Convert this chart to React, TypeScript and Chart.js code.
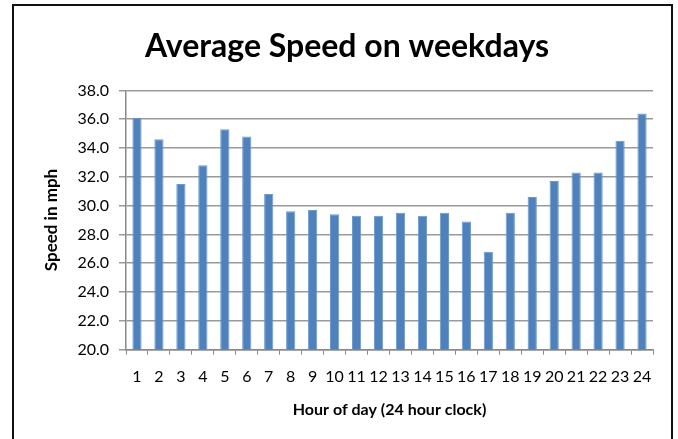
import React, { useEffect, useRef } from "react";
import { Chart, registerables } from "chart.js";

Chart.register(...registerables);

const hours = ["1","2","3","4","5","6","7","8","9","10","11","12","13","14","15","16","17","18","19","20","21","22","23","24"];
const speeds = [36.1,34.6,31.5,32.8,35.3,34.8,30.8,29.6,29.7,29.4,29.3,29.3,29.5,29.3,29.5,28.9,26.8,29.5,30.6,31.7,32.3,32.3,34.5,36.4];
const chartTitle = "Average Speed on weekdays";
const xTitle = "Hour of day (24 hour clock)";
const yTitle = "Speed in mph";

export default function App() {
  const ref = useRef<HTMLCanvasElement>(null);
  useEffect(() => {
    if (!ref.current) return;
    const font = "Lato, 'Open Sans', sans-serif";
    const chart = new Chart(ref.current, {
      type: "bar",
      data: {
        labels: hours,
        datasets: [{
          data: speeds,
          backgroundColor: "#4F81BD",
          borderColor: "#6E98CC",
          borderWidth: 1,
          categoryPercentage: 1,
          barPercentage: 0.42,
        }],
      },
      options: {
        animation: false,
        responsive: false,
        layout: { padding: { left: 41, right: 25, top: 0, bottom: 20 } },
        plugins: {
          legend: { display: false },
          tooltip: { enabled: false },
          title: {
            display: true,
            text: chartTitle,
            color: "#000",
            font: { family: font, size: 32, weight: "bold" },
            padding: { top: 27, bottom: 25 },
          },
        },
        scales: {
          x: {
            offset: true,
            grid: { display: true, drawOnChartArea: false, drawTicks: true, tickLength: 5, offset: true, color: "#888", lineWidth: 1 },
            border: { display: true, color: "#888", width: 1.5 },
            ticks: { autoSkip: false, maxRotation: 0, minRotation: 0, color: "#000", font: { family: font, size: 16 }, padding: 13 },
            title: { display: true, text: xTitle, color: "#000", font: { family: font, size: 16, weight: "bold" }, padding: { top: 0, bottom: 0 } },
          },
          y: {
            min: 20,
            max: 38,
            ticks: { stepSize: 2, color: "#000", font: { family: font, size: 16 }, padding: 10, callback: (v: any) => Number(v).toFixed(1) },
            grid: { color: "#9a9a9a", lineWidth: 1.5, drawTicks: true, tickLength: 7 },
            border: { display: true, color: "#888", width: 1.5 },
            title: { display: true, text: yTitle, color: "#000", font: { family: font, size: 17, weight: "bold" }, padding: { top: 0, bottom: 6 } },
          },
        },
      },
    });
    return () => chart.destroy();
  }, []);
  return (
    <div style={{ position: "absolute", left: 0, top: 0, width: 678, height: 439, background: "#fff", overflow: "hidden" }}>
      <canvas ref={ref} width={678} height={439} style={{ display: "block" }} />
      <div style={{ position: "absolute", left: 12, top: 4, width: 657, height: 460, border: "2px solid #111", pointerEvents: "none" }} />
    </div>
  );
}
